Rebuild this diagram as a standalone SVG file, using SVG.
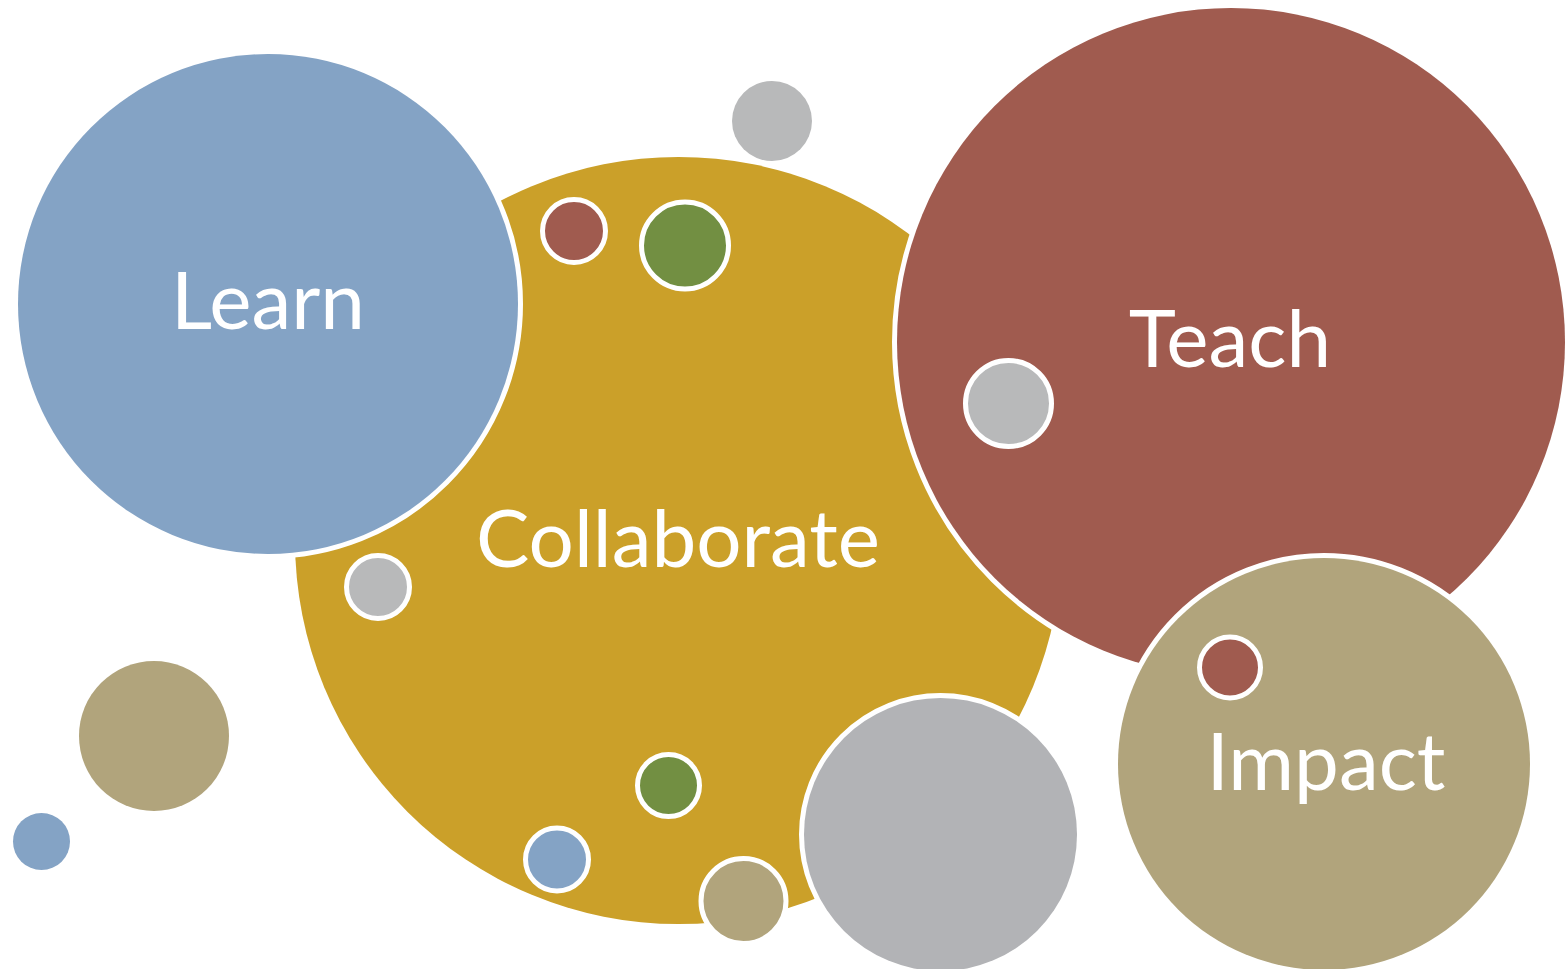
<svg xmlns="http://www.w3.org/2000/svg" width="1568" height="969" viewBox="0 0 1568 969">
<style>
.big{stroke:#fff;stroke-width:10;paint-order:stroke}
.sm{stroke:#fff;stroke-width:5}
.lbl{font-family:Lato,"Open Sans","Liberation Sans",sans-serif;font-size:80px;fill:#fff;text-anchor:middle}
.gold{fill:#CBA029}.blue{fill:#84A3C5}.red{fill:#A05B4F}.tan{fill:#B1A47C}.gray{fill:#B2B3B6}.lgray{fill:#B8B9BA}.green{fill:#728F42}
</style>
<rect width="1568" height="969" fill="#fff"/>
<g id="collaborate">
<circle class="gold" cx="678.5" cy="540.5" r="383.5"/>
<text class="lbl" x="678" y="567">Collaborate</text>
</g>
<g id="learn">
<circle class="blue big" cx="268" cy="304" r="250"/>
<text class="lbl" x="268" y="329">Learn</text>
</g>
<g id="teach">
<circle class="red big" cx="1231" cy="342" r="334"/>
<text class="lbl" x="1230" y="367">Teach</text>
</g>
<g id="impact">
<circle class="tan big" cx="1324" cy="764" r="206"/>
<text class="lbl" x="1326" y="790">Impact</text>
</g>
<g id="gray-big"><circle class="gray big" cx="940.5" cy="834.5" r="136.5"/></g>
<g id="gray-top"><circle class="lgray" cx="772" cy="121" r="40"/></g>
<g id="tan-left"><circle class="tan" cx="154" cy="736" r="75"/></g>
<g id="blue-left"><circle class="blue" cx="41.5" cy="841.5" r="28.5"/></g>
<g id="red-top"><circle class="red sm" cx="574" cy="231" r="31.5"/></g>
<g id="green-top"><circle class="green sm" cx="685" cy="245.5" r="43.5"/></g>
<g id="gray-mid"><circle class="lgray sm" cx="378" cy="587" r="31.5"/></g>
<g id="green-bottom"><circle class="green sm" cx="668.5" cy="785.5" r="31"/></g>
<g id="blue-bottom"><circle class="blue sm" cx="557" cy="859.5" r="31.5"/></g>
<g id="tan-bottom"><circle class="tan sm" cx="743.5" cy="901" r="42.5"/></g>
<g id="gray-teach"><circle class="lgray sm" cx="1008.5" cy="403.5" r="43"/></g>
<g id="red-impact"><circle class="red sm" cx="1230" cy="667.5" r="30.5"/></g>
<g id="connectors"></g>
</svg>
